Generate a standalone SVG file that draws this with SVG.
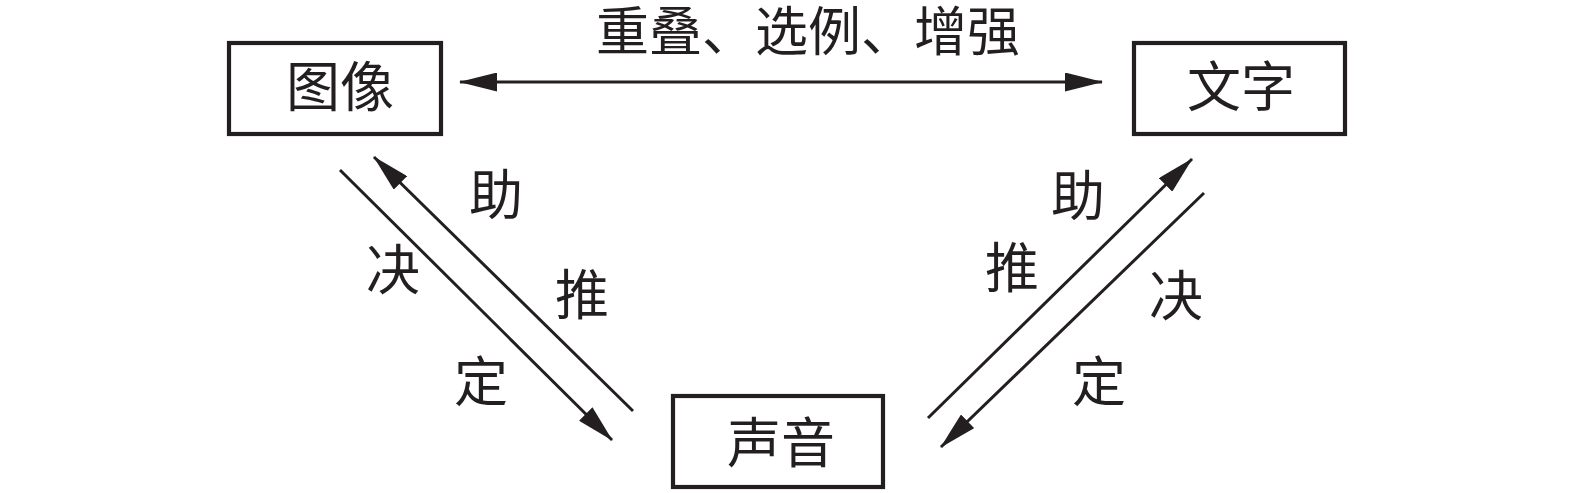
<svg xmlns="http://www.w3.org/2000/svg" width="1575" height="493" viewBox="0 0 1575 493">
<style>
.box{fill:#fff;stroke:#231f20;stroke-width:4.2}
.t{font-family:"Noto Sans CJK SC","Noto Sans CJK JP",sans-serif;font-size:54px;fill:#231f20;text-anchor:middle}
.c{stroke:#231f20;stroke-width:3;fill:none}
</style>
<defs>
<marker id="ah" viewBox="0 0 38 19" refX="37" refY="9.5" markerWidth="38" markerHeight="19" markerUnits="userSpaceOnUse" orient="auto-start-reverse">
<path d="M0,0 L38,9.5 L0,19 z" fill="#231f20"/>
</marker>
</defs>
<rect width="1575" height="493" fill="#fff"/>
<g id="connectors">
<line class="c" x1="460" y1="82" x2="1102" y2="82" marker-start="url(#ah)" marker-end="url(#ah)"/>
<line class="c" x1="340" y1="170" x2="612" y2="440" marker-end="url(#ah)"/>
<line class="c" x1="633" y1="411" x2="374" y2="157" marker-end="url(#ah)"/>
<line class="c" x1="928" y1="418" x2="1192" y2="159" marker-end="url(#ah)"/>
<line class="c" x1="1204" y1="193" x2="941" y2="447" marker-end="url(#ah)"/>
<text class="t" x="808" y="51" style="font-size:53px">重叠、选例、增强</text>
<text class="t" x="496" y="215">助</text>
<text class="t" x="582" y="315">推</text>
<text class="t" x="393" y="290">决</text>
<text class="t" x="481" y="402">定</text>
<text class="t" x="1078" y="216">助</text>
<text class="t" x="1012" y="288">推</text>
<text class="t" x="1176" y="316">决</text>
<text class="t" x="1099" y="402">定</text>
</g>
<g id="node-image">
<rect class="box" x="229" y="43" width="212" height="91"/>
<text class="t" x="340" y="107">图像</text>
</g>
<g id="node-text">
<rect class="box" x="1134" y="43" width="211" height="91"/>
<text class="t" x="1241" y="107">文字</text>
</g>
<g id="node-sound">
<rect class="box" x="673" y="396" width="210" height="91"/>
<text class="t" x="781" y="463">声音</text>
</g>
</svg>
